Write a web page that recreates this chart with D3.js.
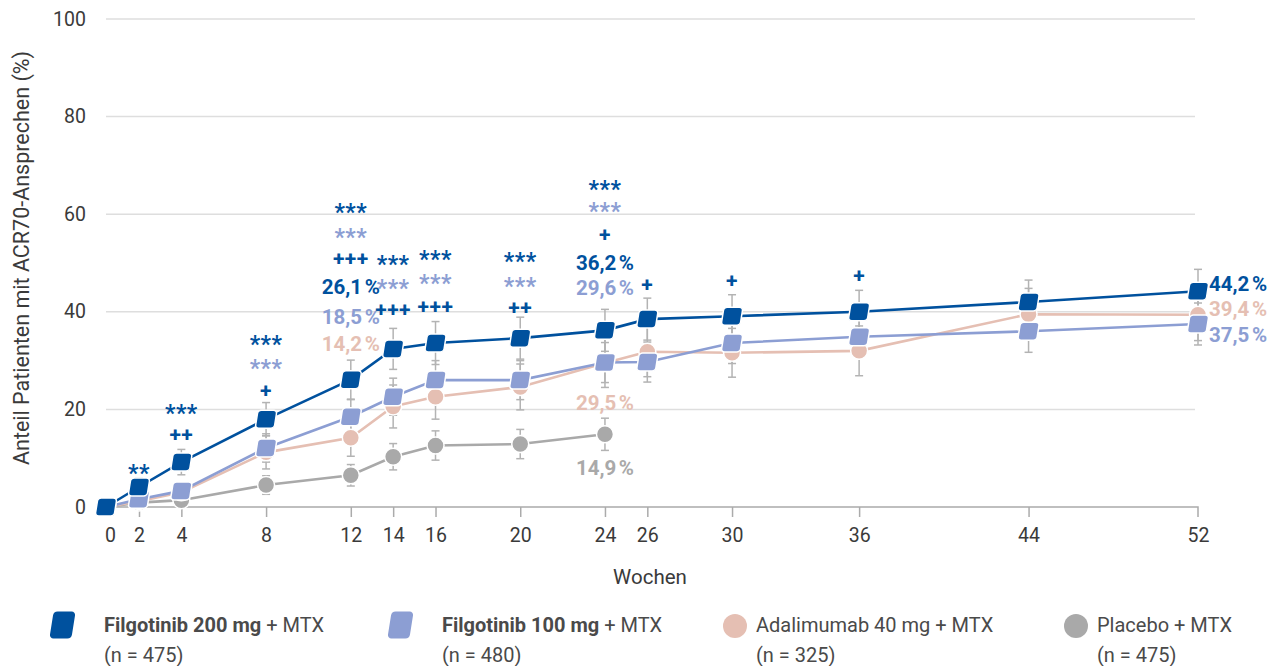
<!DOCTYPE html>
<html lang="de">
<head>
<meta charset="utf-8">
<script src="https://cdn.jsdelivr.net/npm/d3@7"></script>
<style>
  html, body { margin: 0; padding: 0; background: #fff; }
  svg { display: block; font-family: Roboto, "Noto Sans", sans-serif; }
</style>
</head>
<body>
<svg id="chart" width="1277" height="666"></svg>
<script>
// Weeks of assessment
const weeks = [0, 2, 4, 8, 12, 14, 16, 20, 24, 26, 30, 36, 44, 52];
const weekTicks = [0, 2, 4, 8, 12, 14, 16, 20, 24, 26, 30, 36, 44, 52];
const yTicks = [0, 20, 40, 60, 80, 100];

// ACR70 response (%) per arm
const filgo200 = [0, 4.1, 9.2, 18.0, 26.1, 32.4, 33.6, 34.6, 36.2, 38.5, 39.1, 40.0, 42.0, 44.2];
const filgo100 = [0, 1.6, 3.3, 12.1, 18.5, 22.6, 26.0, 26.0, 29.6, 29.7, 33.6, 34.9, 36.0, 37.5];
const adalimumab = [0, 1.2, 3.0, 11.2, 14.2, 20.6, 22.6, 24.6, 29.5, 31.8, 31.6, 32.0, 39.5, 39.4];
const placebo = [0, 0.9, 1.4, 4.5, 6.5, 10.3, 12.6, 12.9, 14.9];

// Half-width of the 95% CI per point
const filgo200Err = [0, 1.8, 2.6, 3.4, 4.0, 4.2, 4.4, 4.3, 4.3, 4.3, 4.4, 4.4, 4.5, 4.5];
const filgo100Err = [0, 1.2, 1.6, 2.9, 3.5, 3.8, 4.0, 4.0, 4.1, 4.1, 4.2, 4.3, 4.3, 4.3];
const adalimumabErr = [0, 1.3, 1.9, 3.4, 3.8, 4.4, 4.6, 4.7, 5.0, 5.1, 5.0, 5.1, 5.3, 5.3];
const placeboErr = [0, 0.8, 1.1, 1.9, 2.2, 2.7, 3.0, 3.0, 3.3];

// Significance markers: week, symbol, arm, baseline
const sigMarks = [
  [2, "**", "f200", 477],
  [4, "***", "f200", 417], [4, "++", "f200", 442],
  [8, "***", "f200", 348], [8, "***", "f100", 372], [8, "+", "f200", 398],
  [12, "***", "f200", 216], [12, "***", "f100", 241], [12, "+++", "f200", 266],
  [14, "***", "f200", 268], [14, "***", "f100", 292], [14, "+++", "f200", 317],
  [16, "***", "f200", 263], [16, "***", "f100", 287], [16, "+++", "f200", 314],
  [20, "***", "f200", 265], [20, "***", "f100", 290], [20, "++", "f200", 315],
  [24, "***", "f200", 193], [24, "***", "f100", 215], [24, "+", "f200", 242],
  [26, "+", "f200", 292],
  [30, "+", "f200", 288],
  [36, "+", "f200", 283]
];

const colors = {
  f200: "#00519e",
  f100: "#8c9ed3",
  ada: "#e5bfb3",
  pbo: "#a9a9a9"
};

const series = [
  { key: "pbo", values: placebo, err: placeboErr, shape: "circle" },
  { key: "ada", values: adalimumab, err: adalimumabErr, shape: "circle" },
  { key: "f100", values: filgo100, err: filgo100Err, shape: "square" },
  { key: "f200", values: filgo200, err: filgo200Err, shape: "square" }
];

const legendItems = [
  { key: "f200", bold: "Filgotinib 200 mg", rest: " + MTX", n: "(n = 475)", shape: "square" },
  { key: "f100", bold: "Filgotinib 100 mg", rest: " + MTX", n: "(n = 480)", shape: "square" },
  { key: "ada", bold: "", rest: "Adalimumab 40 mg + MTX", n: "(n = 325)", shape: "circle" },
  { key: "pbo", bold: "", rest: "Placebo + MTX", n: "(n = 475)", shape: "circle" }
];

const fmt = v => d3.format(".1f")(v).replace(".", ",") + "\u202F%";

const svg = d3.select("#chart");

// Week 0 sits slightly right of the linear origin
const x = d3.scaleLinear().domain([0, 2, 52]).range([106, 139, 1198]);
const y = d3.scaleLinear().domain([0, 100]).range([507, 19]);

// Gridlines
svg.append("g")
  .selectAll("line")
  .data(yTicks.filter(d => d > 0))
  .join("line")
  .attr("x1", x(0)).attr("x2", 1195)
  .attr("y1", d => y(d)).attr("y2", d => y(d))
  .attr("stroke", "#dedede").attr("stroke-width", 1.5);

// Y tick labels
svg.append("g")
  .selectAll("text")
  .data(yTicks)
  .join("text")
  .attr("x", 86).attr("y", d => y(d))
  .attr("text-anchor", "end").attr("dominant-baseline", "central")
  .attr("font-size", 19.5).attr("fill", "#3a3a3a")
  .text(d => d);

// X axis
const xAxis = svg.append("g").attr("transform", `translate(0,${y(0)})`)
  .call(d3.axisBottom(x).tickValues(weekTicks).tickSize(10).tickPadding(11).tickFormat(d => d));
xAxis.select(".domain").attr("stroke", "#ababab").attr("stroke-width", 1.5)
  .attr("d", `M${x(0)},0H${x(52)}V10`);
xAxis.selectAll(".tick line").attr("stroke", "#ababab").attr("stroke-width", 1.5)
  .attr("display", d => d === 0 || d === 52 ? "none" : null);
xAxis.selectAll(".tick text").attr("font-size", 19.5).attr("fill", "#3a3a3a")
  .attr("font-family", "Roboto, sans-serif")
  .attr("dx", d => d === 0 ? 4 : 0);

// Axis titles
svg.append("text")
  .attr("x", 650).attr("y", 584)
  .attr("text-anchor", "middle").attr("font-size", 20.5).attr("fill", "#3a3a3a")
  .text("Wochen");
svg.append("text")
  .attr("transform", `translate(29,258) rotate(-90)`)
  .attr("text-anchor", "middle").attr("font-size", 21.5).attr("fill", "#3a3a3a")
  .text("Anteil Patienten mit ACR70-Ansprechen (%)");

// Error bars
const errG = svg.append("g");
series.forEach(s => {
  s.values.forEach((v, i) => {
    const e = s.err[i];
    if (!e) return;
    const cx = x(weeks[i]);
    const g = errG.append("g").attr("stroke", "#b3b3b3").attr("stroke-width", 1.5);
    g.append("line").attr("x1", cx).attr("x2", cx).attr("y1", y(v - e)).attr("y2", y(v + e));
    g.append("line").attr("x1", cx - 4).attr("x2", cx + 4).attr("y1", y(v - e)).attr("y2", y(v - e));
    g.append("line").attr("x1", cx - 4).attr("x2", cx + 4).attr("y1", y(v + e)).attr("y2", y(v + e));
  });
});

// Rounded, slanted square marker
function squareMarker(sel, w, h) {
  sel.append("rect")
    .attr("x", -w / 2).attr("y", -h / 2).attr("width", w).attr("height", h)
    .attr("rx", 3.5).attr("ry", 3.5);
}

const line = d3.line().x((d, i) => x(weeks[i])).y(d => y(d));

series.forEach(s => {
  const g = svg.append("g");
  g.append("path")
    .datum(s.values)
    .attr("d", line)
    .attr("fill", "none")
    .attr("stroke", colors[s.key]).attr("stroke-width", 2.6);
  const pts = g.selectAll("g.pt").data(s.values).join("g")
    .attr("class", "pt")
    .attr("transform", (d, i) => `translate(${x(weeks[i])},${y(d)})`);
  if (s.shape === "circle") {
    pts.append("circle").attr("r", 8.5)
      .attr("fill", colors[s.key]).attr("stroke", "#fff").attr("stroke-width", 1.5);
  } else {
    pts.append("g").attr("transform", "skewX(-9)")
      .call(squareMarker, 19, 18);
    pts.selectAll("rect").attr("fill", colors[s.key]).attr("stroke", "#fff").attr("stroke-width", 1.5);
  }
});

// Significance markers
const sigG = svg.append("g").attr("font-weight", 700).attr("text-anchor", "middle");
sigMarks.forEach(([wk, txt, arm, by]) => {
  const isStar = txt.startsWith("*");
  sigG.append("text")
    .attr("x", x(wk))
    .attr("y", by + (isStar ? 4 : 0))
    .attr("font-size", isStar ? 23 : 21)
    .attr("fill", colors[arm])
    .attr("letter-spacing", 0.5)
    .text(txt);
});

// Value labels: week, value, arm, baseline, anchor
const valueLabels = [
  [12, filgo200[4], "f200", 294, "middle"],
  [12, filgo100[4], "f100", 324, "middle"],
  [12, adalimumab[4], "ada", 351, "middle"],
  [24, filgo200[8], "f200", 270, "middle"],
  [24, filgo100[8], "f100", 295, "middle"],
  [24, adalimumab[8], "ada", 410, "middle"],
  [24, placebo[8], "pbo", 475, "middle"],
  [52, filgo200[13], "f200", 291, "start"],
  [52, adalimumab[13], "ada", 316, "start"],
  [52, filgo100[13], "f100", 342, "start"]
];
svg.append("g").attr("font-weight", 700).attr("font-size", 20.5)
  .selectAll("text").data(valueLabels).join("text")
  .attr("x", d => d[4] === "start" ? x(d[0]) + 11 : x(d[0]))
  .attr("y", d => d[3])
  .attr("text-anchor", d => d[4])
  .attr("fill", d => colors[d[2]])
  .text(d => fmt(d[1]));

// Legend
const legendX = [50, 388, 723, 1064];
const lg = svg.append("g");
legendItems.forEach((it, i) => {
  const g = lg.append("g").attr("transform", `translate(${legendX[i]},0)`);
  if (it.shape === "square") {
    g.append("g").attr("transform", "translate(12.5,625) skewX(-9)")
      .append("rect").attr("x", -11).attr("y", -13.5).attr("width", 22).attr("height", 27)
      .attr("rx", 4).attr("fill", colors[it.key]);
  } else {
    g.append("circle").attr("cx", 12).attr("cy", 626).attr("r", 12).attr("fill", colors[it.key]);
  }
  const tx = it.shape === "square" ? 54 : 33;
  const t = g.append("text").attr("x", tx).attr("y", 632).attr("font-size", 20).attr("fill", "#4a4a4a");
  if (it.bold) t.append("tspan").attr("font-weight", 700).text(it.bold);
  t.append("tspan").text(it.rest);
  g.append("text").attr("x", tx).attr("y", 662).attr("font-size", 20).attr("fill", "#4a4a4a").text(it.n);
});
</script>
</body>
</html>
